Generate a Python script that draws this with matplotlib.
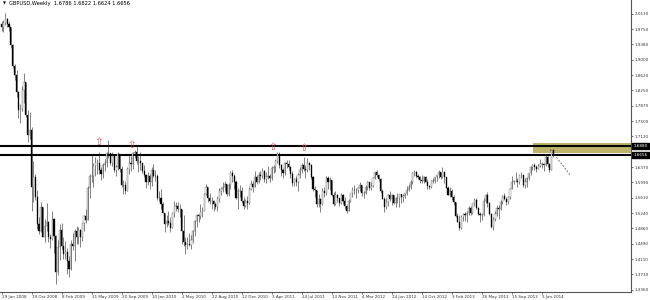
import matplotlib
matplotlib.use("Agg")
import numpy as np
import matplotlib.pyplot as plt
from matplotlib.transforms import blended_transform_factory
from matplotlib.patches import Rectangle

# GBPUSD weekly bars, first week 29 Jun 2008 (open of first bar given separately)
first_open = 1.9880
closes = [
    1.9810, 1.9920, 2.0000, 1.9890, 1.9800, 1.9360, 1.8840, 1.8640, 1.8220, 1.7780,
    1.7800, 1.8250, 1.8460, 1.7660, 1.7150, 1.7280, 1.5880, 1.6130, 1.5640, 1.4960,
    1.4800, 1.5380, 1.4650, 1.4930, 1.5010, 1.4640, 1.4600, 1.5100, 1.4680, 1.3800,
    1.4400, 1.4820, 1.4420, 1.4240, 1.4280, 1.4070, 1.3870, 1.4480, 1.4440, 1.4790,
    1.4650, 1.4830, 1.4640, 1.4990, 1.5160, 1.5080, 1.5850, 1.6150, 1.6140, 1.6400,
    1.6480, 1.6480, 1.6300, 1.6190, 1.6420, 1.6470, 1.6720, 1.6710, 1.6480, 1.6640,
    1.6300, 1.6380, 1.6680, 1.6330, 1.5930, 1.5920, 1.5790, 1.6310, 1.6470, 1.6450,
    1.6720, 1.6740, 1.6530, 1.6520, 1.6460, 1.6280, 1.6180, 1.6000, 1.6150, 1.6000,
    1.6290, 1.6160, 1.6150, 1.5600, 1.5620, 1.5450, 1.5240, 1.4970, 1.5040, 1.5000,
    1.4880, 1.5250, 1.5420, 1.5410, 1.5340, 1.5340, 1.4800, 1.4530, 1.4460, 1.4480,
    1.4450, 1.4580, 1.4800, 1.5050, 1.5180, 1.5160, 1.5270, 1.5300, 1.5700, 1.5880,
    1.5610, 1.5540, 1.5540, 1.5470, 1.5400, 1.5590, 1.5780, 1.5820, 1.5890, 1.5950,
    1.5700, 1.5920, 1.6220, 1.6140, 1.6010, 1.5610, 1.5790, 1.5770, 1.5540, 1.5420,
    1.5530, 1.5480, 1.5840, 1.5960, 1.5880, 1.6120, 1.6000, 1.6170, 1.6140, 1.6270,
    1.6080, 1.6130, 1.6140, 1.6090, 1.6350, 1.6370, 1.6510, 1.6700, 1.6410, 1.6300,
    1.6230, 1.6460, 1.6440, 1.6380, 1.6190, 1.5970, 1.6070, 1.6010, 1.6170, 1.6300,
    1.6430, 1.6330, 1.6290, 1.6480, 1.6420, 1.6130, 1.5830, 1.5800, 1.5450, 1.5580,
    1.5470, 1.5780, 1.5720, 1.6100, 1.6000, 1.6050, 1.5690, 1.5450, 1.5690, 1.5600,
    1.5480, 1.5690, 1.5540, 1.5410, 1.5300, 1.5530, 1.5720, 1.5810, 1.5800, 1.5800,
    1.5850, 1.5920, 1.5720, 1.5730, 1.5890, 1.6000, 1.5860, 1.5900, 1.6100, 1.6240,
    1.6180, 1.6080, 1.5780, 1.5590, 1.5380, 1.5500, 1.5680, 1.5590, 1.5690, 1.5490,
    1.5600, 1.5600, 1.5700, 1.5630, 1.5650, 1.5720, 1.5810, 1.5870, 1.5990, 1.6230,
    1.6250, 1.6150, 1.6130, 1.6040, 1.6030, 1.6130, 1.6000, 1.5900, 1.5870, 1.6030,
    1.6020, 1.6120, 1.6170, 1.6240, 1.6130, 1.6250, 1.6120, 1.5860, 1.5690, 1.5780,
    1.5640, 1.5500, 1.5170, 1.5030, 1.4880, 1.5150, 1.5220, 1.5190, 1.5240, 1.5370,
    1.5230, 1.5480, 1.5560, 1.5370, 1.5210, 1.5190, 1.5200, 1.5530, 1.5680, 1.5480,
    1.5210, 1.4890, 1.5100, 1.5210, 1.5370, 1.5350, 1.5510, 1.5650, 1.5590, 1.5500,
    1.5640, 1.5840, 1.6010, 1.6020, 1.6030, 1.6000, 1.6170, 1.6180, 1.5920, 1.6000,
    1.6110, 1.6220, 1.6370, 1.6410, 1.6370, 1.6330, 1.6400, 1.6450, 1.6440, 1.6420,
    1.6610, 1.6440, 1.6300, 1.6786, 1.6656,
]
highs = [
    1.9950, 1.9970, 2.0160, 2.0020, 1.9960, 1.9810, 1.9400, 1.8890, 1.8750, 1.8230,
    1.7920, 1.8360, 1.8670, 1.8460, 1.7760, 1.7720, 1.7360, 1.6520, 1.6200, 1.5800,
    1.5150, 1.5500, 1.5370, 1.5100, 1.5480, 1.5050, 1.4720, 1.5290, 1.5120, 1.4700,
    1.4570, 1.4960, 1.5000, 1.4650, 1.4560, 1.4370, 1.4180, 1.4580, 1.4760, 1.4840,
    1.4920, 1.4900, 1.4850, 1.5000, 1.5200, 1.5350, 1.5900, 1.6190, 1.6660, 1.6470,
    1.6610, 1.6560, 1.6744, 1.6360, 1.6480, 1.6570, 1.6740, 1.7043, 1.6720, 1.6740,
    1.6640, 1.6430, 1.6730, 1.6680, 1.6400, 1.6050, 1.6030, 1.6360, 1.6700, 1.6640,
    1.6745, 1.6800, 1.6877, 1.6650, 1.6730, 1.6480, 1.6420, 1.6200, 1.6240, 1.6200,
    1.6380, 1.6450, 1.6300, 1.6190, 1.5780, 1.5820, 1.5520, 1.5250, 1.5200, 1.5280,
    1.5140, 1.5270, 1.5530, 1.5520, 1.5510, 1.5460, 1.5350, 1.5190, 1.4660, 1.4660,
    1.4750, 1.4690, 1.4820, 1.5070, 1.5220, 1.5220, 1.5470, 1.5400, 1.5720, 1.5960,
    1.5880, 1.5720, 1.5630, 1.5570, 1.5520, 1.5660, 1.5850, 1.5890, 1.6010, 1.6030,
    1.5960, 1.5980, 1.6270, 1.6298, 1.6190, 1.6050, 1.5850, 1.5920, 1.5880, 1.5630,
    1.5590, 1.5650, 1.5870, 1.6060, 1.6030, 1.6280, 1.6170, 1.6250, 1.6280, 1.6350,
    1.6300, 1.6260, 1.6400, 1.6190, 1.6400, 1.6420, 1.6560, 1.6746, 1.6730, 1.6450,
    1.6350, 1.6500, 1.6550, 1.6550, 1.6400, 1.6280, 1.6100, 1.6140, 1.6230, 1.6380,
    1.6480, 1.6618, 1.6420, 1.6600, 1.6500, 1.6440, 1.6140, 1.5900, 1.5810, 1.5710,
    1.5620, 1.5850, 1.5880, 1.6140, 1.6160, 1.6120, 1.6050, 1.5750, 1.5780, 1.5710,
    1.5620, 1.5720, 1.5700, 1.5630, 1.5440, 1.5580, 1.5730, 1.5880, 1.5940, 1.5850,
    1.5890, 1.5990, 1.5920, 1.5780, 1.5940, 1.6030, 1.6010, 1.5990, 1.6120, 1.6250,
    1.6300, 1.6200, 1.6110, 1.5830, 1.5640, 1.5600, 1.5700, 1.5770, 1.5700, 1.5690,
    1.5630, 1.5730, 1.5710, 1.5700, 1.5700, 1.5740, 1.5910, 1.5950, 1.6050, 1.6250,
    1.6309, 1.6280, 1.6200, 1.6150, 1.6180, 1.6160, 1.6150, 1.6070, 1.5930, 1.6040,
    1.6090, 1.6130, 1.6170, 1.6300, 1.6260, 1.6381, 1.6270, 1.6130, 1.5900, 1.5880,
    1.5820, 1.5680, 1.5510, 1.5230, 1.5200, 1.5200, 1.5240, 1.5260, 1.5300, 1.5410,
    1.5410, 1.5490, 1.5600, 1.5610, 1.5400, 1.5270, 1.5240, 1.5600, 1.5700, 1.5752,
    1.5500, 1.5250, 1.5140, 1.5280, 1.5430, 1.5430, 1.5550, 1.5680, 1.5720, 1.5630,
    1.5670, 1.5860, 1.6160, 1.6040, 1.6260, 1.6100, 1.6190, 1.6260, 1.6180, 1.6110,
    1.6130, 1.6230, 1.6390, 1.6440, 1.6470, 1.6430, 1.6440, 1.6570, 1.6500, 1.6480,
    1.6668, 1.6640, 1.6470, 1.6800, 1.6822,
]
lows = [
    1.9720, 1.9680, 1.9860, 1.9810, 1.9720, 1.9300, 1.8800, 1.8520, 1.8100, 1.7580,
    1.7440, 1.7750, 1.7950, 1.7600, 1.6980, 1.7060, 1.5285, 1.5520, 1.5560, 1.4850,
    1.4720, 1.4780, 1.4640, 1.4520, 1.4810, 1.4520, 1.4390, 1.4580, 1.4250, 1.3500,
    1.3720, 1.4080, 1.4360, 1.4100, 1.4120, 1.3750, 1.3660, 1.3830, 1.4320, 1.4070,
    1.4470, 1.4480, 1.4400, 1.4560, 1.4800, 1.5000, 1.5060, 1.5600, 1.6000, 1.5870,
    1.6160, 1.6200, 1.6210, 1.6040, 1.6100, 1.6280, 1.6360, 1.6600, 1.6420, 1.6400,
    1.6260, 1.6160, 1.6300, 1.6260, 1.5880, 1.5700, 1.5700, 1.5780, 1.6200, 1.6270,
    1.6330, 1.6580, 1.6440, 1.6250, 1.6300, 1.6220, 1.6130, 1.5850, 1.5930, 1.5830,
    1.5910, 1.6120, 1.6020, 1.5560, 1.5530, 1.5340, 1.5230, 1.4780, 1.4900, 1.4950,
    1.4780, 1.4860, 1.5150, 1.5290, 1.5260, 1.5140, 1.4477, 1.4420, 1.4230, 1.4360,
    1.4440, 1.4350, 1.4500, 1.4670, 1.4900, 1.5030, 1.5090, 1.5150, 1.5290, 1.5690,
    1.5500, 1.5450, 1.5340, 1.5300, 1.5350, 1.5300, 1.5500, 1.5680, 1.5750, 1.5770,
    1.5650, 1.5650, 1.5830, 1.6000, 1.5840, 1.5590, 1.5350, 1.5630, 1.5490, 1.5350,
    1.5380, 1.5350, 1.5450, 1.5800, 1.5750, 1.5870, 1.5950, 1.5980, 1.6050, 1.6110,
    1.6000, 1.5980, 1.6080, 1.5990, 1.6060, 1.6220, 1.6250, 1.6480, 1.6340, 1.6150,
    1.6100, 1.6180, 1.6350, 1.6290, 1.6110, 1.5900, 1.5910, 1.5900, 1.5780, 1.6090,
    1.6230, 1.6280, 1.6110, 1.6260, 1.6300, 1.6080, 1.5780, 1.5630, 1.5380, 1.5380,
    1.5272, 1.5440, 1.5630, 1.5690, 1.5830, 1.5810, 1.5660, 1.5420, 1.5430, 1.5520,
    1.5420, 1.5470, 1.5460, 1.5340, 1.5230, 1.5280, 1.5500, 1.5640, 1.5700, 1.5600,
    1.5730, 1.5770, 1.5650, 1.5600, 1.5710, 1.5810, 1.5800, 1.5810, 1.5870, 1.6080,
    1.6130, 1.6030, 1.5740, 1.5580, 1.5268, 1.5340, 1.5420, 1.5540, 1.5440, 1.5450,
    1.5390, 1.5480, 1.5380, 1.5480, 1.5520, 1.5600, 1.5690, 1.5780, 1.5830, 1.5950,
    1.6150, 1.6100, 1.6080, 1.5980, 1.5970, 1.5980, 1.5990, 1.5830, 1.5830, 1.5850,
    1.5980, 1.5970, 1.6030, 1.6110, 1.6080, 1.6100, 1.5980, 1.5850, 1.5680, 1.5630,
    1.5560, 1.5440, 1.5140, 1.5010, 1.4831, 1.4850, 1.5050, 1.5050, 1.5030, 1.5200,
    1.5190, 1.5210, 1.5420, 1.5340, 1.5180, 1.5020, 1.5080, 1.5170, 1.5480, 1.5400,
    1.5190, 1.4860, 1.4813, 1.5050, 1.5170, 1.5100, 1.5320, 1.5460, 1.5560, 1.5430,
    1.5450, 1.5580, 1.5820, 1.5950, 1.6000, 1.5890, 1.5950, 1.6110, 1.5890, 1.5860,
    1.5880, 1.6050, 1.6180, 1.6290, 1.6300, 1.6240, 1.6310, 1.6380, 1.6340, 1.6280,
    1.6400, 1.6370, 1.6250, 1.6290, 1.6624,
]

date_labels = ["29 Jun 2008", "19 Oct 2008", "8 Feb 2009", "31 May 2009", "20 Sep 2009",
               "10 Jan 2010", "2 May 2010", "22 Aug 2010", "12 Dec 2010", "3 Apr 2011",
               "24 Jul 2011", "13 Nov 2011", "4 Mar 2012", "24 Jun 2012", "14 Oct 2012",
               "3 Feb 2013", "26 May 2013", "15 Sep 2013", "5 Jan 2014"]
label_bars = list(range(0, 289, 16))

price_ticks = [2.0130, 1.9750, 1.9380, 1.9000, 1.8620, 1.8250, 1.7870, 1.7500, 1.7120,
               1.6370, 1.5990, 1.5610, 1.5240, 1.4860, 1.4490, 1.4110, 1.3730, 1.3360]

level_prices = [1.6880, 1.6656]
level_labels = ["1.6880", "1.6656"]

zone_start_bar = 283.3
zone_low, zone_high = 1.6717, 1.6963

marker_bars = [51.7, 69.2, 144.5, 161.0]
marker_prices = [1.6985, 1.6910, 1.6865, 1.6840]

trend_bars = [292.5, 303.0]
trend_prices = [1.6800, 1.6180]

title_text = "GBPUSD,Weekly  1.6786 1.6822 1.6624 1.6656"

opens = [first_open] + closes[:-1]
n = len(closes)
x = np.arange(n)

fig = plt.figure(figsize=(6.5, 3.0), dpi=100)
ax = fig.add_axes([0.0, 8 / 300, 631 / 650, 292 / 300])
ax.set_xlim(-0.8, 335.5)
ax.set_ylim(1.3300, 2.0473)

# zone rectangle
ax.add_patch(Rectangle((zone_start_bar, zone_low), 336 - zone_start_bar, zone_high - zone_low,
                       facecolor="#bdb46c", edgecolor="none", zorder=1))

# horizontal levels
for p in level_prices:
    ax.axhline(p, color="black", lw=1.5, zorder=2)

# candles: bulls hollow, bears filled
for i in range(n):
    o, c = opens[i], closes[i]
    h = max(highs[i], o, c)
    l = min(lows[i], o, c)
    ax.vlines(x[i], l, h, color="#222222", lw=0.4, zorder=3)
    bottom = min(o, c)
    height = max(abs(c - o), 0.0006)
    if c >= o:
        ax.add_patch(Rectangle((x[i] - 0.3, bottom), 0.6, height, facecolor="white",
                               edgecolor="#555555", lw=0.25, zorder=4))
    else:
        ax.add_patch(Rectangle((x[i] - 0.3, bottom), 0.6, height, facecolor="black",
                               edgecolor="black", lw=0.25, zorder=4))

# arrow markers
for b, p in zip(marker_bars, marker_prices):
    ax.text(b, p, "\u21e7", color="#e05060", fontsize=7.5, ha="center", va="center", zorder=5)

# dashed trend line
ax.plot(trend_bars, trend_prices, color="#555555", lw=0.6, ls=(0, (2, 2)), zorder=5)

# axes styling
for s in ["top", "left"]:
    ax.spines[s].set_visible(False)
ax.spines["right"].set_linewidth(0.8)
ax.spines["right"].set_color("#555555")
ax.spines["bottom"].set_linewidth(0.8)
ax.spines["bottom"].set_color("#555555")
ax.yaxis.tick_right()
ax.set_yticks(price_ticks)
ax.set_yticklabels([f"{v:.4f}" for v in price_ticks])
ax.tick_params(axis="y", labelsize=3.0, length=1.5, width=0.5, pad=1.0, colors="#333333")
ax.set_xticks(label_bars)
ax.set_xticklabels(date_labels, ha="left")
ax.tick_params(axis="x", labelsize=3.0, length=1.5, width=0.5, pad=0.4, colors="#333333")

# level price boxes on the right scale
trans = blended_transform_factory(ax.transAxes, ax.transData)
for p, t in zip(level_prices, level_labels):
    ax.text(1.004, p, t, transform=trans, fontsize=3.0, color="white", ha="left", va="center",
            bbox=dict(boxstyle="square,pad=0.25", facecolor="black", edgecolor="black"),
            clip_on=False, zorder=6)

# title
ax.text(0.004, 0.987, "\u25bc", transform=ax.transAxes, fontsize=2.8, color="black",
        ha="left", va="center")
ax.text(0.015, 0.987, title_text, transform=ax.transAxes, fontsize=3.7, color="black",
        ha="left", va="center")

fig.savefig("out.png", dpi=100)
